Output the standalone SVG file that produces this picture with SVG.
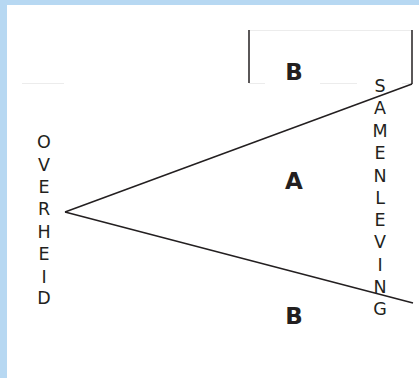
<svg xmlns="http://www.w3.org/2000/svg" width="419" height="378" viewBox="0 0 419 378">
  <style>
    .frame { fill: #b7d8f2; }
    .rule { stroke: #ececec; stroke-width: 1; fill: none; }
    .edge { stroke: #231f20; stroke-width: 1.5; fill: none; }
    .zone { font-family: "DejaVu Sans", Verdana, sans-serif; font-weight: bold; font-size: 23px; fill: #231f20; text-anchor: middle; }
    .word { font-family: "DejaVu Sans", Verdana, sans-serif; font-size: 17.5px; fill: #231f20; text-anchor: middle; }
  </style>
  <rect width="419" height="378" fill="#ffffff"/>
  <!-- light blue page border (left and top) -->
  <rect class="frame" x="0" y="0" width="7" height="378"/>
  <rect class="frame" x="0" y="0" width="419" height="5"/>

  <!-- faint guide rules -->
  <g id="guides">
    <line class="rule" x1="249" y1="30.5" x2="412" y2="30.5"/>
    <line class="rule" x1="22" y1="83.5" x2="64" y2="83.5"/>
    <line class="rule" x1="249" y1="83.5" x2="265" y2="83.5"/>
    <line class="rule" x1="320" y1="83.5" x2="357" y2="83.5"/>
    <line class="rule" x1="402" y1="83.5" x2="412" y2="83.5"/>
  </g>

  <g id="connectors">
    <line class="edge" x1="249" y1="30" x2="249" y2="83"/>
    <line class="edge" x1="412" y1="30" x2="412" y2="84"/>
    <line class="edge" x1="65" y1="212" x2="412" y2="84"/>
    <line class="edge" x1="65" y1="212" x2="413" y2="303"/>
  </g>

  <g id="zone-b-top"><text class="zone" x="294" y="80">B</text></g>
  <g id="zone-a"><text class="zone" x="294" y="189">A</text></g>
  <g id="zone-b-bottom"><text class="zone" x="294" y="324">B</text></g>

  <g id="overheid">
    <text class="word" x="44" y="148">O</text>
    <text class="word" x="44" y="170.5">V</text>
    <text class="word" x="44" y="193">E</text>
    <text class="word" x="44" y="215">R</text>
    <text class="word" x="44" y="237.5">H</text>
    <text class="word" x="44" y="260">E</text>
    <text class="word" x="44" y="282.5">I</text>
    <text class="word" x="44" y="304">D</text>
  </g>

  <g id="samenleving">
    <text class="word" x="380" y="92">S</text>
    <text class="word" x="380" y="114">A</text>
    <text class="word" x="380" y="137">M</text>
    <text class="word" x="380" y="159">E</text>
    <text class="word" x="380" y="181.5">N</text>
    <text class="word" x="380" y="204">L</text>
    <text class="word" x="380" y="226">E</text>
    <text class="word" x="380" y="248">V</text>
    <text class="word" x="380" y="270.5">I</text>
    <text class="word" x="380" y="292.5">N</text>
    <text class="word" x="380" y="315">G</text>
  </g>
</svg>
